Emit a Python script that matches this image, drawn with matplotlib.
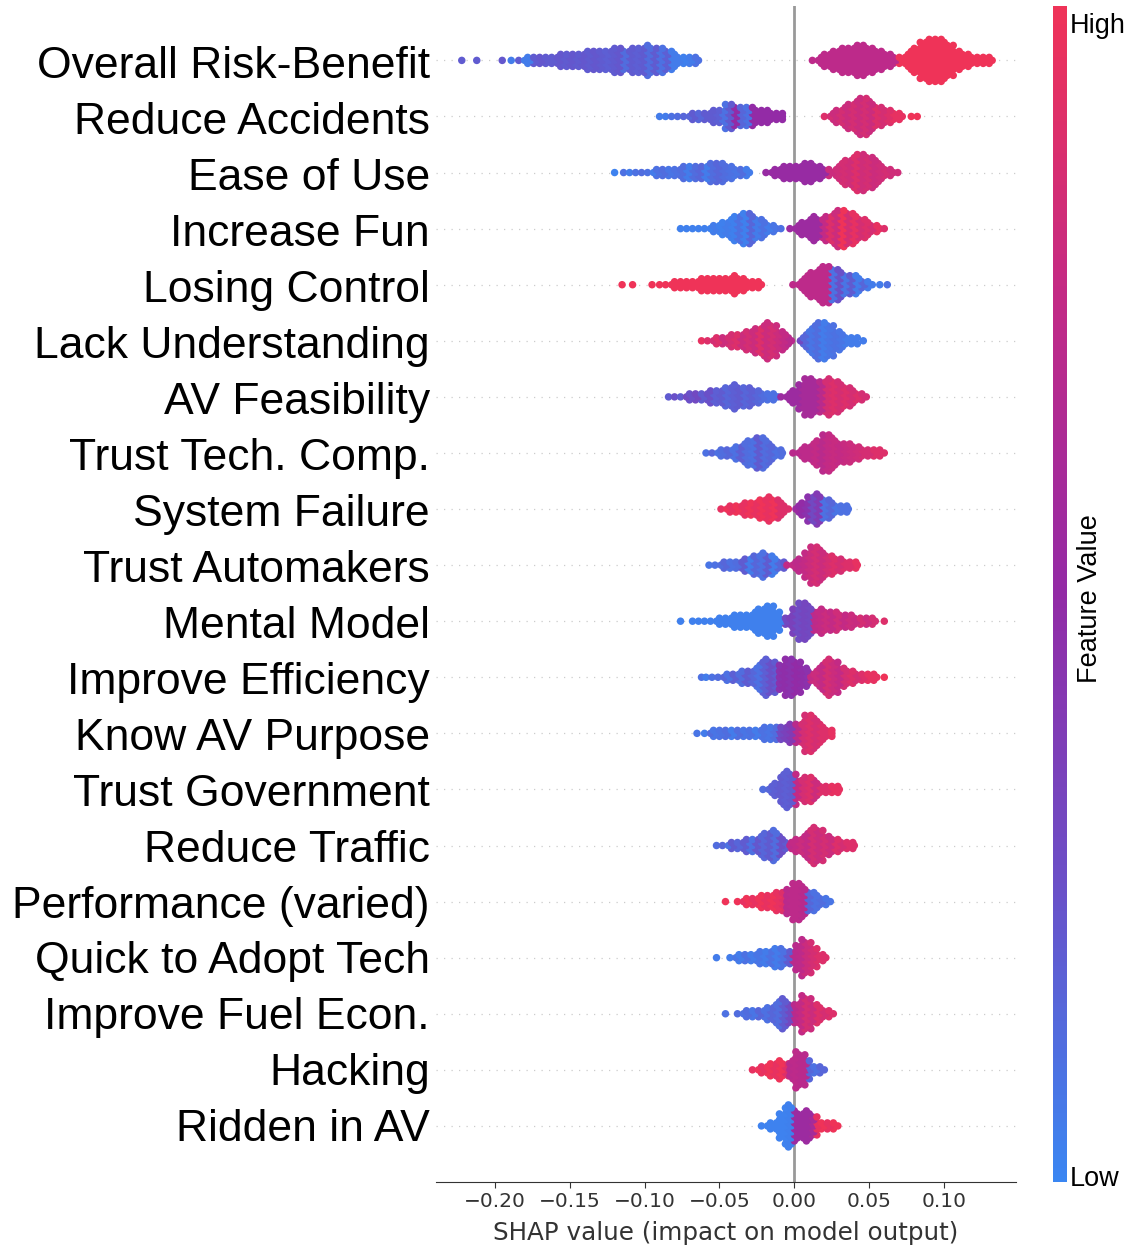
import matplotlib
matplotlib.use("Agg")
import matplotlib.pyplot as plt
from matplotlib.colors import LinearSegmentedColormap
from matplotlib.cm import ScalarMappable
from matplotlib.transforms import ScaledTranslation

features = ["Overall Risk-Benefit", "Reduce Accidents", "Ease of Use", "Increase Fun",
            "Losing Control", "Lack Understanding", "AV Feasibility", "Trust Tech. Comp.",
            "System Failure", "Trust Automakers", "Mental Model", "Improve Efficiency",
            "Know AV Purpose", "Trust Government", "Reduce Traffic", "Performance (varied)",
            "Quick to Adopt Tech", "Improve Fuel Econ.", "Hacking", "Ridden in AV"]
xticks = [-0.20, -0.15, -0.10, -0.05, 0.00, 0.05, 0.10]

# Each row: SHAP position of a stack of dots, half-count of the stack, feature value
x0 = [-.222,-.212,-.195,-.189,-.184,-.18,-.176,-.172,-.168,-.164,-.16,-.156,-.152,-.148,-.144,-.14,-.136,-.132,-.128,-.124,-.12,-.116,-.112,-.108,-.104,-.1,-.096,-.092,-.088,-.084,-.08,-.076,-.072,-.068,-.064,
      .012,.016,.02,.024,.028,.032,.036,.04,.044,.048,.052,.056,.06,.064,.068,
      .072,.076,.08,.084,.088,.092,.096,.1,.104,.108,.112,.116,.12,.124,.128,.132]
n0 = [0,0,0,0,0,1,1,1,1,1,1,2,2,2,2,3,3,3,3,3,4,4,3,4,4,5,4,4,4,3,2,1,1,1,0,
      0,1,2,3,3,4,4,5,5,4,4,3,2,2,1,
      1,3,4,6,7,7,7,6,5,3,2,2,1,1,1,0]
c0 = [.2,.2,.22,.05,.2,.05,.05,.2,.22,.2,.2,.22,.2,.22,.2,.22,.2,.22,.2,.18,.2,.22,.12,.2,.18,.2,.12,.2,.1,.18,.05,.05,.03,.05,.1,
      .72,.72,.72,.72,.72,.72,.72,.72,.72,.72,.72,.72,.72,.72,.72,
      1,1,1,1,1,1,1,1,1,1,1,1,1,1,1,1]

x1 = [-.09,-.086,-.082,-.078,-.074,-.07,-.066,-.062,-.058,-.054,-.05,-.046,-.042,-.038,-.034,-.03,-.026,-.022,-.018,-.014,-.01,-.008,
      .02,.024,.028,.032,.036,.04,.044,.048,.052,.056,.06,.064,.068,.072,.078,.082]
n1 = [0,0,0,0,0,1,1,1,1,2,2,4,4,3,3,3,2,2,2,1,1,0,
      0,1,2,3,4,5,6,6,4,3,2,2,1,0,0,0]
c1 = [.05,.05,.1,.12,.15,.15,.2,.15,.2,.2,.18,.1,.2,.5,.15,.1,.5,.5,.5,.5,.5,.5,
      .9,.85,.8,.85,.8,.85,.8,.85,.8,.9,.85,.9,.95,.95,1,1]

x2 = [-.12,-.114,-.11,-.106,-.102,-.098,-.094,-.09,-.086,-.082,-.078,-.074,-.07,-.066,-.062,-.058,-.054,-.05,-.046,-.042,-.038,-.034,-.03,
      -.019,-.015,-.011,-.007,-.003,.001,.005,.009,.013,.017,.021,
      .026,.03,.034,.038,.042,.046,.05,.054,.058,.062,.066,.069]
n2 = [0,0,0,0,0,0,1,1,1,1,1,2,2,2,2,3,3,3,2,2,1,1,0,
      0,1,1,2,2,2,3,3,2,2,1,
      1,3,4,5,6,6,5,4,2,1,0,0]
c2 = [.02,.1,.05,.1,.12,.1,.05,.1,.12,.08,.1,.12,.05,.12,.15,.05,.12,.15,.12,.1,.08,.12,.05,
      .52,.52,.52,.52,.52,.52,.52,.52,.52,.52,.52,
      .8,.82,.85,.82,.9,.82,.85,.8,.82,.85,.82,.82]

x3 = [-.076,-.072,-.068,-.064,-.06,-.056,-.052,-.048,-.044,-.04,-.036,-.032,-.028,-.024,-.02,-.016,-.012,-.009,
      -.003,.001,.005,.009,.013,.017,
      .021,.025,.029,.033,.037,.041,.045,.049,.053,.057,.06]
n3 = [0,0,0,0,0,1,1,2,3,4,5,5,4,3,2,1,0,0,
      0,1,2,3,4,3,
      4,5,6,6,5,4,3,2,1,0,0]
c3 = [.03,.03,.03,.03,.03,.03,.05,.03,.05,.03,.1,.03,.15,.05,.1,.05,.08,.1,
      .55,.55,.55,.55,.55,.55,
      .75,.9,.8,1,.85,.95,.85,.9,.85,.95,.9]

x4 = [-.115,-.108,-.095,-.09,-.086,-.082,-.078,-.074,-.07,-.066,-.062,-.058,-.054,-.05,-.046,-.042,-.038,-.034,-.03,-.026,-.022,
      -.001,.003,.007,.011,.015,.019,.023,
      .027,.031,.035,.039,.043,.047,.052,.057,.062]
n4 = [0,0,0,0,0,1,1,1,1,1,2,2,2,2,2,3,2,2,1,1,0,
      0,1,3,4,5,6,6,
      5,4,3,3,2,1,0,0,0]
c4 = [1]*21 + [.72]*7 + [.1,.25,.08,.2,.05,.15,.05,.05,.1,.18]

x5 = [-.062,-.058,-.054,-.05,-.046,-.042,-.038,-.034,-.03,-.026,-.022,-.018,-.014,-.01,-.006,-.002,
      .004,.008,.012,.016,.02,.024,.028,.032,.036,.04,.046]
n5 = [0,0,1,1,1,2,2,3,3,4,5,6,5,3,2,0,
      1,3,5,6,6,5,3,2,1,1,0]
c5 = [.95,.9,.85,.9,.8,.85,.9,.8,.85,.8,.9,.8,.85,.8,.75,.7,
      .3,.15,.08,.12,.05,.08,.1,.08,.05,.05,.05]

x6 = [-.084,-.08,-.076,-.072,-.068,-.064,-.06,-.056,-.052,-.048,-.044,-.04,-.036,-.032,-.028,-.024,-.02,-.016,-.011,
      -.009,-.005,-.001,.003,.007,.011,.015,.019,.023,.027,.031,.035,.039,.043,.048]
n6 = [0,0,0,1,1,1,1,2,2,3,3,4,3,3,2,2,1,1,0,
      0,1,2,4,6,6,5,5,6,5,4,3,2,1,0]
c6 = [.2,.25,.2,.3,.25,.3,.2,.25,.18,.2,.15,.18,.2,.15,.18,.15,.12,.1,.1,
      .55,.55,.55,.55,.6,.6,.6,.7,.85,.9,.85,.9,.85,.9,.85]

x7 = [-.059,-.055,-.051,-.047,-.043,-.039,-.035,-.031,-.027,-.023,-.019,-.015,-.011,-.008,
      -.001,.003,.007,.011,.015,.019,.023,.027,.031,.035,.039,.043,.047,.051,.055,.06]
n7 = [0,0,1,1,1,2,3,4,5,5,4,2,1,0,
      0,1,2,3,4,6,6,4,3,3,2,2,1,1,1,0]
c7 = [.1,.15,.1,.12,.15,.1,.18,.12,.1,.2,.12,.15,.1,.12,
      .7,.7,.72,.72,.75,.7,.75,.78,.75,.78,.8,.82,.85,.85,.9,.9]

x8 = [-.049,-.045,-.041,-.037,-.033,-.029,-.025,-.021,-.017,-.013,-.009,-.004,
      .001,.005,.009,.013,.017,.021,.025,.029,.033,.036]
n8 = [0,1,1,1,2,2,3,3,4,3,2,0,
      1,2,4,5,4,3,2,1,1,0]
c8 = [.95,1,.95,1,.95,1,.95,1,.95,1,.9,.9,
      .55,.5,.45,.3,.4,.1,.15,.08,.1,.1]

x9 = [-.057,-.053,-.049,-.045,-.041,-.037,-.033,-.029,-.025,-.021,-.017,-.013,-.009,-.006,
      -.005,-.001,.003,.007,.011,.015,.019,.023,.027,.031,.035,.039,.042]
n9 = [0,0,1,1,1,1,2,3,3,4,3,2,1,0,
      0,1,2,4,6,6,4,3,2,2,1,1,0]
c9 = [.08,.1,.12,.15,.1,.12,.2,.05,.15,.1,.2,.05,.15,.2,
      .75,.75,.72,.75,.8,.85,.8,.85,.9,.85,.9,.9,.95]

x10 = [-.076,-.068,-.064,-.06,-.056,-.052,-.048,-.044,-.04,-.036,-.032,-.028,-.024,-.02,-.016,-.012,-.008,
       -.005,-.001,.003,.007,.011,
       .014,.018,.022,.026,.03,.034,.038,.042,.046,.05,.054,.06]
n10 = [0,0,0,0,0,1,1,1,2,2,2,3,4,5,5,3,1,
       1,4,6,6,4,
       3,4,3,3,2,2,2,1,1,1,0,0]
c10 = [.03]*17 + [.3,.35,.28,.32,.3] + [.72,.75,.8,.75,.82,.75,.8,.78,.85,.8,.85,.9]

x11 = [-.062,-.059,-.055,-.051,-.047,-.043,-.039,-.035,-.031,-.027,-.023,-.019,-.015,-.011,
       -.01,-.006,-.002,.002,.006,.009,
       .011,.015,.019,.023,.027,.031,.035,.039,.043,.047,.051,.055,.06]
n11 = [0,0,0,0,1,1,1,2,2,3,5,6,5,3,
       4,6,6,5,3,2,
       1,3,5,6,5,3,2,2,1,1,1,0,0]
c11 = [.1,.05,.1,.12,.15,.1,.18,.12,.2,.15,.1,.18,.25,.2,
       .45,.48,.45,.5,.48,.45,
       .75,.8,.75,.85,.8,.75,.85,.9,.85,.9,.95,.95,1]

x12 = [-.065,-.06,-.056,-.052,-.048,-.044,-.04,-.036,-.032,-.028,-.024,-.02,-.016,-.012,
       -.009,-.005,-.001,.003,.007,.011,.015,.019,.023,.025]
n12 = [0,0,1,1,1,1,1,1,1,1,1,2,2,2,
       2,3,3,3,6,6,4,2,1,0]
c12 = [.08,.05,.12,.08,.1,.12,.05,.12,.08,.1,.05,.1,.08,.12,
       .3,.35,.4,.7,.85,.9,.85,.9,.9,.95]

x13 = [-.021,-.017,-.013,-.009,-.005,-.001,
       .003,.007,.011,.015,.019,.023,.027,.03]
n13 = [0,1,2,5,6,5,
       3,4,4,2,1,1,1,0]
c13 = [.12,.15,.18,.2,.18,.2,
       .75,.85,.9,.8,.9,.9,.95,.95]

x14 = [-.052,-.048,-.044,-.04,-.036,-.032,-.028,-.024,-.02,-.016,-.012,-.008,-.004,
       -.003,.001,.005,.009,.013,.017,.021,.025,.029,.033,.037,.04]
n14 = [0,0,1,1,1,2,2,3,4,5,4,2,1,
       1,2,3,5,6,5,3,2,2,1,1,0]
c14 = [.12,.15,.1,.2,.15,.2,.1,.22,.15,.2,.12,.25,.2,
       .72,.75,.8,.75,.85,.8,.85,.8,.9,.85,.9,.9]

x15 = [-.046,-.038,-.034,-.03,-.026,-.022,-.018,-.014,-.01,-.006,
       -.005,-.001,.003,.007,
       .011,.015,.019,.024]
n15 = [0,0,1,1,1,2,2,3,3,2,
       4,6,6,4,
       3,2,1,0]
c15 = [1,1,.95,1,.95,1,.95,1,.95,.9,
       .7,.72,.72,.7,
       .15,.1,.12,.08]

x16 = [-.052,-.043,-.039,-.035,-.031,-.027,-.023,-.019,-.015,-.011,-.007,-.003,
       .001,.005,.009,.013,.017,.021]
n16 = [0,0,1,1,1,1,2,2,3,3,2,2,
       4,6,5,3,1,0]
c16 = [.05,.05,.08,.05,.1,.05,.08,.05,.1,.05,.1,.2,
       .7,.72,.8,.85,.9,.9]

x17 = [-.046,-.038,-.034,-.03,-.026,-.022,-.018,-.014,-.01,-.006,-.002,
       .001,.005,.009,.013,.017,.021,.026]
n17 = [0,0,1,1,1,1,2,3,5,4,3,
       3,6,5,3,2,1,0]
c17 = [.1,.12,.1,.12,.08,.15,.1,.15,.12,.2,.3,
       .7,.75,.85,.8,.9,.85,.9]

x18 = [-.028,-.024,-.02,-.016,-.012,-.008,-.004,
       -.003,.001,.005,.008,
       .011,.015,.02]
n18 = [0,1,1,2,3,2,2,
       3,6,5,3,
       1,1,0]
c18 = [.95,1,.95,1,.95,1,.9,
       .7,.72,.7,.7,
       .15,.1,.15]

x19 = [-.022,-.018,-.014,-.01,-.006,-.002,
       .002,.006,.01,.013,
       .016,.02,.024,.029]
n19 = [0,1,1,4,7,6,
       4,5,4,3,
       1,1,1,0]
c19 = [.02,.02,.02,.02,.02,.03,
       .55,.55,.55,.6,
       .95,1,.95,1]

xs = [x0, x1, x2, x3, x4, x5, x6, x7, x8, x9, x10, x11, x12, x13, x14, x15, x16, x17, x18, x19]
ns = [n0, n1, n2, n3, n4, n5, n6, n7, n8, n9, n10, n11, n12, n13, n14, n15, n16, n17, n18, n19]
cs = [c0, c1, c2, c3, c4, c5, c6, c7, c8, c9, c10, c11, c12, c13, c14, c15, c16, c17, c18, c19]

plt.rcParams["font.family"] = "DejaVu Sans"
W, H = 1130, 1250
fig = plt.figure(figsize=(W / 100, H / 100), dpi=100)
L, R, T, B = 436, 1016, 6, 1182
ax = fig.add_axes([L / W, 1 - B / H, (R - L) / W, (B - T) / H])

cmap = LinearSegmentedColormap.from_list("shapish", [
    (0.0, "#3A86F2"), (0.25, "#6A50C8"), (0.5, "#932BA6"), (0.75, "#C22A86"), (1.0, "#EF3358")])

stack_step = 3 / 56.05
stagger = 0.002
nrow = len(features)
for i, (xr, nr, cr) in enumerate(zip(xs, ns, cs)):
    yc = nrow - 1 - i
    ax.axhline(yc, color="#cccccc", lw=0.9, ls=(0, (1, 5)), zorder=-2)
    px, py, pc = [], [], []
    for j, (xv, nv, cv) in enumerate(zip(xr, nr, cr)):
        other = cr[min(j + 1, len(cr) - 1)]
        for k in range(-nv, nv + 1):
            odd = k % 2 == 1
            px.append(xv + stagger if odd else xv)
            py.append(yc + k * stack_step)
            pc.append(other if odd else cv)
    ax.scatter(px, py, c=pc, cmap=cmap, vmin=0, vmax=1, s=29, linewidths=0, zorder=3)

ax.axvline(0, color="#999999", lw=2, zorder=-1)
ax.set_xlim(-0.2392, 0.1479)
ax.set_ylim(-1, 19.97)
ax.set_xticks(xticks)
ax.set_xticklabels(["\u2212%.2f" % abs(v) if v < 0 else "%.2f" % v for v in xticks],
                   fontsize=14.5, color="#333333")
ax.set_xlabel("SHAP value (impact on model output)", fontsize=17.7, color="#333333", labelpad=7)
ax.set_yticks([nrow - 1 - i for i in range(nrow)])
ax.set_yticklabels(features, fontsize=32, family="Liberation Sans", color="black")
ax.tick_params(axis="y", length=0, pad=4.5)
ax.tick_params(axis="x", length=4, color="#333333")
for i, lab in enumerate(ax.get_yticklabels()):
    shift = ScaledTranslation(0, -(1.5 - 2.0 * i / (nrow - 1)) / 100, fig.dpi_scale_trans)
    lab.set_transform(lab.get_transform() + shift)
for s in ("top", "left", "right"):
    ax.spines[s].set_visible(False)
ax.spines["bottom"].set_color("#333333")

cax = fig.add_axes([1053 / W, 1 - B / H, 14 / W, (B - T) / H])
cb = fig.colorbar(ScalarMappable(cmap=cmap), cax=cax)
cb.outline.set_visible(False)
cb.set_ticks([])
fig.text(1070 / W, 1 - 26 / H, "High", fontsize=19.5, family="Liberation Sans", va="center", ha="left")
fig.text(1070 / W, 1 - 1179 / H, "Low", fontsize=19.5, family="Liberation Sans", va="center", ha="left")
fig.text(1090 / W, 1 - 599 / H, "Feature Value", fontsize=19.5, family="Liberation Sans",
         rotation=90, va="center", ha="center")

fig.savefig("out.png", dpi=100)
